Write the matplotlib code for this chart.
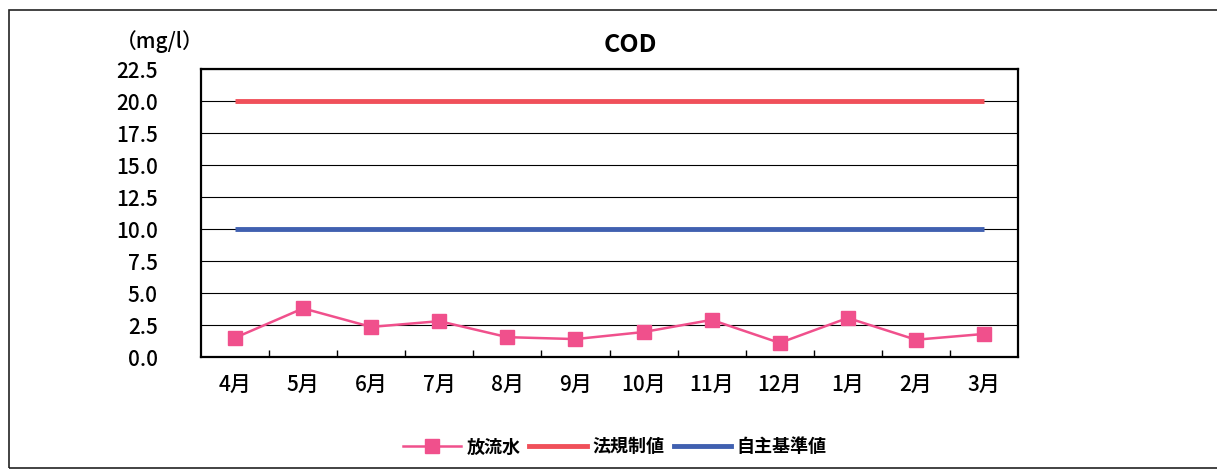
import matplotlib
matplotlib.use('Agg')
import matplotlib.pyplot as plt
from matplotlib.lines import Line2D
from matplotlib.patches import Rectangle
import numpy as np

plt.rcParams['font.family'] = ['Noto Sans CJK JP', 'DejaVu Sans']

months = ['4月', '5月', '6月', '7月', '8月', '9月', '10月', '11月', '12月', '1月', '2月', '3月']
effluent = [1.5, 3.8, 2.35, 2.8, 1.55, 1.4, 1.95, 2.9, 1.1, 3.05, 1.35, 1.8]
legal_limit = [20.0] * 12
own_standard = [10.0] * 12
yticks = np.arange(0, 22.6, 2.5)

W, H = 1217, 470
fig = plt.figure(figsize=(W / 100, H / 100), dpi=100)
fig.patches.append(Rectangle((9 / W, 2 / H), 1.2, 458 / H, transform=fig.transFigure,
                             fill=False, lw=1.2, ec='#222222'))

ax = fig.add_axes([201 / W, 1 - 357 / H, 817 / W, 288 / H])
x = np.arange(len(months))
ax.plot(x, legal_limit, color='#f0505a', lw=3.5, solid_capstyle='butt', zorder=3)
ax.plot(x, own_standard, color='#4060b0', lw=3.5, solid_capstyle='butt', zorder=3)
ax.plot(x, effluent, color='#f0508c', lw=1.8, marker='s', ms=10, mfc='#f0508c',
        mec='#f0508c', zorder=4)

ax.set_xlim(-0.5, len(months) - 0.5)
ax.set_ylim(0, 22.5)
ax.set_yticks(yticks)
ax.set_yticklabels([f'{v:.1f}' for v in yticks], fontsize=15, fontweight='medium')
ax.yaxis.grid(True, color='black', lw=0.8)
ax.set_axisbelow(True)
for s in ax.spines.values():
    s.set_linewidth(1.6)
ax.tick_params(axis='y', length=0, pad=31)
ax.set_xticks(x)
ax.set_xticklabels(months, fontsize=15, fontweight='medium')
ax.tick_params(axis='x', length=0, pad=13)
# category boundary ticks pointing inward
ax.set_xticks(np.arange(0.5, len(months) - 0.5), minor=True)
ax.tick_params(axis='x', which='minor', direction='in', length=5, width=1)

fig.text(116 / W, 1 - 42 / H, '（mg/l）', fontsize=15, fontweight='medium',
         ha='left', va='center')
fig.text(630 / W, 1 - 45 / H, 'COD', fontsize=18, fontweight='bold', ha='center', va='center')

handles = [
    Line2D([], [], color='#f0508c', lw=1.8, marker='s', ms=10),
    Line2D([], [], color='#f0505a', lw=3.5),
    Line2D([], [], color='#4060b0', lw=3.5),
]
fig.legend(handles, ['放流水', '法規制値', '自主基準値'], loc='center',
           bbox_to_anchor=(615 / W, 1 - 447 / H), ncol=3, frameon=False,
           prop={'size': 13, 'weight': 'bold'}, handlelength=3.2,
           handletextpad=0.3, columnspacing=0.5)

fig.savefig('out.png', dpi=100)
